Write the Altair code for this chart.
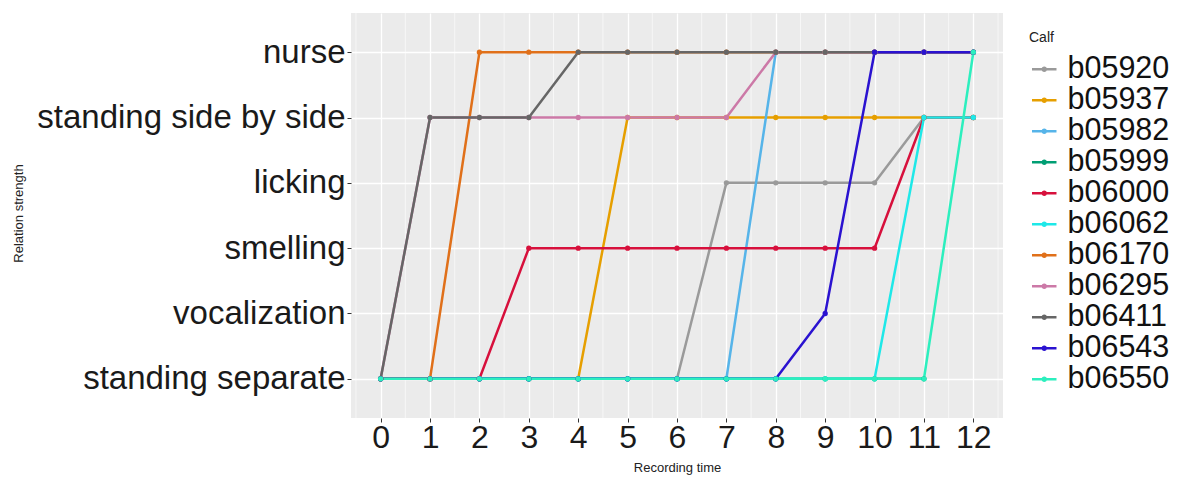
import altair as alt
import pandas as pd

levels = ["standing separate", "vocalization", "smelling", "licking",
          "standing side by side", "nurse"]
times = list(range(13))
calves = ["b05920", "b05937", "b05982", "b05999", "b06000", "b06062",
          "b06170", "b06295", "b06411", "b06543", "b06550"]
colors = ["#9a9a9a", "#E69F00", "#56B4E9", "#009E73", "#D7103C", "#1EE8E8",
          "#E0701A", "#CC79A7", "#666666", "#2A12D0", "#2CEFBE"]

# None = no observation
b05920 = [0, 0, 0, 0, 0, 0, 0, 3, 3, 3, 3, 4, 4]
b05937 = [0, 0, 0, 0, 0, 4, 4, 4, 4, 4, 4, 4, 4]
b05982 = [0, 0, 0, 0, 0, 0, 0, 0, 5, 5, 5, 5, 5]
b05999 = [0, 0, 0, 0, 0, 0, 0, 0, 0, 0, 0, 0, None]
b06000 = [0, 0, 0, 2, 2, 2, 2, 2, 2, 2, 2, 4, 4]
b06062 = [0, 0, 0, 0, 0, 0, 0, 0, 0, 0, 0, 4, 4]
b06170 = [0, 0, 5, 5, 5, 5, 5, 5, 5, 5, 5, 5, 5]
b06295 = [0, 4, 4, 4, 4, 4, 4, 4, 5, 5, 5, 5, 5]
b06411 = [0, 4, 4, 4, 5, 5, 5, 5, 5, 5, 5, 5, 5]
b06543 = [0, 0, 0, 0, 0, 0, 0, 0, 0, 1, 5, 5, 5]
b06550 = [0, 0, 0, 0, 0, 0, 0, 0, 0, 0, 0, 0, 5]

series = [b05920, b05937, b05982, b05999, b06000, b06062,
          b06170, b06295, b06411, b06543, b06550]
minor_breaks = [-0.5, 0.5, 1.5, 2.5, 3.5, 4.5, 5.5, 6.5, 7.5, 8.5, 9.5,
                10.5, 11.5, 12.5]

rows = []
for ci, (name, vals) in enumerate(zip(calves, series)):
    for t, v in zip(times, vals):
        if v is None:
            continue
        rows.append({"Calf": name, "time": t, "level": levels[v], "order": ci})
df = pd.DataFrame(rows)
minor_df = pd.DataFrame({"m": minor_breaks})

FONT = "Liberation Sans"
XTITLE = "Recording time"

xscale = alt.Scale(domain=[-0.6, 12.6], nice=False)
yscale = alt.Scale(domain=levels[::-1], padding=0.6)
xaxis = alt.Axis(values=times, title=XTITLE, format="d")

color = alt.Color(
    "Calf:N",
    scale=alt.Scale(domain=calves, range=colors),
    legend=alt.Legend(
        title="Calf", titleFontSize=14, titleFont=FONT, titleFontWeight="normal",
        titleColor="#222", labelFontSize=30.5, labelFont=FONT, labelColor="#111",
        labelLimit=0,
        symbolType="M-1,0L1,0M-0.12,0A0.12,0.12 0 1,0 0.12,0A0.12,0.12 0 1,0 -0.12,0",
        symbolSize=600, symbolStrokeWidth=2.6, rowPadding=0,
        titlePadding=9, labelOffset=8, padding=0,
        orient="none", legendX=678, legendY=18,
    ),
)

minor = alt.Chart(minor_df).mark_rule(color="white", strokeWidth=0.6).encode(
    x=alt.X("m:Q", scale=xscale, axis=xaxis, title=XTITLE)
)

yaxis = alt.Axis(title="Relation strength", labelLimit=0,
                 titleX=-326, titleY=200, titleAngle=270)

lines = alt.Chart(df).mark_line(strokeWidth=2.5).encode(
    x=alt.X("time:Q", scale=xscale, axis=xaxis, title=XTITLE),
    y=alt.Y("level:N", scale=yscale, sort=levels[::-1], axis=yaxis),
    color=color,
    detail="Calf:N",
    order="time:Q",
)

points = alt.Chart(df).mark_point(filled=True, size=28, opacity=1).encode(
    x=alt.X("time:Q", scale=xscale, axis=xaxis, title=XTITLE),
    y=alt.Y("level:N", scale=yscale, sort=levels[::-1], axis=yaxis),
    color=color,
)

chart = alt.layer(minor, lines, points).properties(
    width=652, height=405,
    padding={"left": 4, "top": 4, "right": 2, "bottom": 2},
).configure_view(
    fill="#EBEBEB", stroke=None
).configure_axis(
    grid=True, gridColor="white", gridWidth=1.3, domain=False,
    tickColor="#333333", tickSize=4, tickWidth=1,
    labelFont=FONT, labelFontSize=32, labelColor="#1a1a1a", labelPadding=2,
    labelLimit=0,
    titleFont=FONT, titleFontSize=13, titleFontWeight="normal", titleColor="#222",
).configure_axisY(
    labelFontSize=33,
).configure_axisX(
    titlePadding=8, labelPadding=0,
)

chart.save("out.html", embed_options={"renderer": "svg", "actions": False})
